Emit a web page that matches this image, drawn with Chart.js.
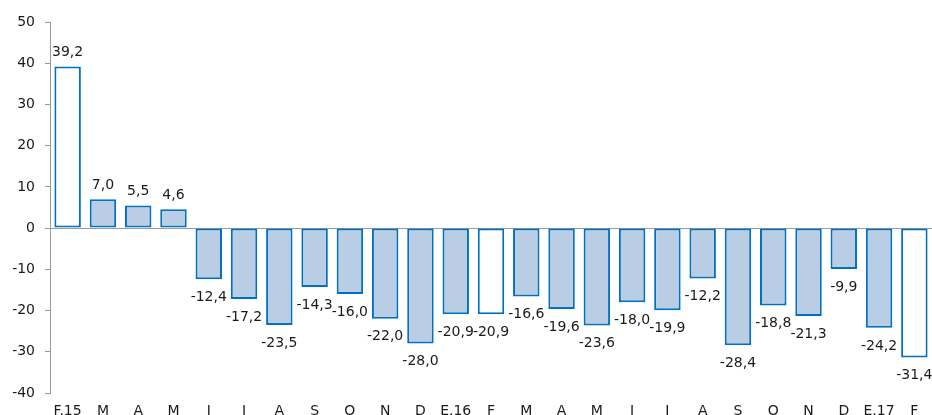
<!DOCTYPE html>
<html>
<head>
<meta charset="utf-8">
<script src="https://cdn.jsdelivr.net/npm/chart.js@4"></script>
<style>
  html, body { margin: 0; padding: 0; background: #fff; }
  #chart { display: block; }
</style>
</head>
<body>
<canvas id="chart" width="932" height="415"></canvas>
<script>
// ================= Data =================
const months = ['F.15','M','A','M','J','J','A','S','O','N','D','E.16',
                'F','M','A','M','J','J','A','S','O','N','D','E.17','F'];
const values = [39.2, 7.0, 5.5, 4.6, -12.4, -17.2, -23.5, -14.3, -16.0, -22.0, -28.0, -20.9,
                -20.9, -16.6, -19.6, -23.6, -18.0, -19.9, -12.2, -28.4, -18.8, -21.3, -9.9, -24.2, -31.4];
const yTicks = [50, 40, 30, 20, 10, 0, -10, -20, -30, -40];

// ================= Style =================
const FONT = 'DejaVu Sans';
const hollowBars = [0, 12, 24];   // February bars drawn unfilled
const fillColor = '#B9CDE5';
const lineColor = '#0070C0';
const axisColor = '#9a9a9a';

function fmt(v) {
    return v.toFixed(1).replace('.', ',');
}

// draws the value at the end of each bar
const valueLabels = {
    id: 'valueLabels',
    afterDatasetsDraw(chart) {
        const ctx = chart.ctx;
        const meta = chart.getDatasetMeta(0);
        ctx.save();
        ctx.font = '14px "' + FONT + '"';
        ctx.fillStyle = '#1a1a1a';
        ctx.textAlign = 'center';
        ctx.textBaseline = 'middle';
        meta.data.forEach((bar, i) => {
            const v = values[i];
            const y = v >= 0 ? bar.y - 14 : bar.y + 18;
            ctx.fillText(fmt(v), bar.x, y);
        });
        ctx.restore();
    }
};

new Chart(document.getElementById('chart'), {
    type: 'bar',
    data: {
        labels: months,
        datasets: [{
            data: values,
            backgroundColor: c => hollowBars.includes(c.dataIndex) ? '#ffffff' : fillColor,
            borderColor: lineColor,
            borderWidth: 2,
            borderSkipped: false,
            barPercentage: 0.75,
            categoryPercentage: 1
        }]
    },
    options: {
        responsive: false,
        animation: false,
        layout: { padding: { top: 22, right: 0, left: 0, bottom: 0 } },
        plugins: { legend: { display: false }, tooltip: { enabled: false } },
        scales: {
            x: {
                grid: { display: false },
                border: { display: false },
                ticks: { color: '#1a1a1a', font: { family: FONT, size: 14 }, padding: 2,
                         maxRotation: 0, autoSkip: false },
                afterFit: s => { s.height = 22; }
            },
            y: {
                min: -40,
                max: 50,
                afterBuildTicks: s => { s.ticks = yTicks.map(v => ({ value: v })); },
                grid: {
                    color: c => c.tick && c.tick.value === 0 ? axisColor : 'rgba(0,0,0,0)',
                    tickColor: axisColor,
                    tickLength: 5,
                    lineWidth: 1
                },
                border: { display: true, color: axisColor, width: 1 },
                ticks: { color: '#1a1a1a', font: { family: FONT, size: 14 }, padding: 10 },
                afterFit: s => { s.width = 50; }
            }
        }
    },
    plugins: [valueLabels]
});
</script>
</body>
</html>
